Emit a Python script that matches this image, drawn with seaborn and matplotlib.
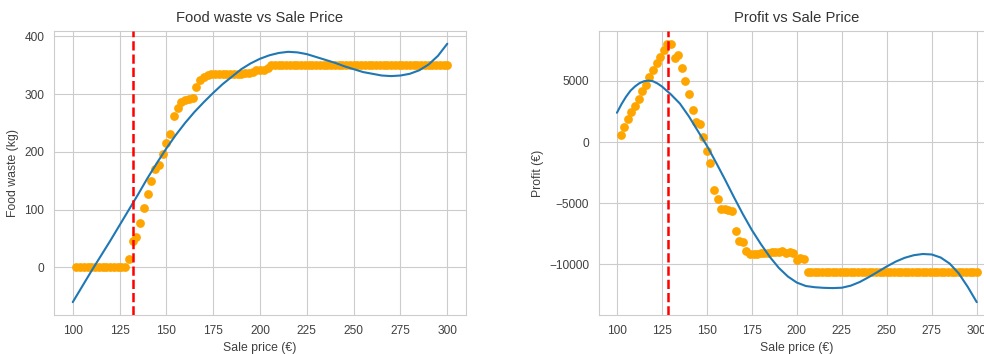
import pandas as pd
import matplotlib
matplotlib.use("Agg")
import matplotlib.pyplot as plt
import seaborn as sns

# sale price grid (EUR)
sale_price = [102, 104, 106, 108, 110, 112, 114, 116, 118, 120,
              122, 124, 126, 128, 130, 132, 134, 136, 138, 140,
              142, 144, 146, 148, 150, 152, 154, 156, 158, 160,
              162, 164, 166, 168, 170, 172, 174, 176, 178, 180,
              182, 184, 186, 188, 190, 192, 194, 196, 198, 200,
              202, 204, 206, 208, 210, 212, 214, 216, 218, 220,
              222, 224, 226, 228, 230, 232, 234, 236, 238, 240,
              242, 244, 246, 248, 250, 252, 254, 256, 258, 260,
              262, 264, 266, 268, 270, 272, 274, 276, 278, 280,
              282, 284, 286, 288, 290, 292, 294, 296, 298, 300]

food_waste = [0, 0, 0, 0, 0, 0, 0, 0, 0, 0,
              0, 0, 0, 0, 14, 45, 52, 77, 102, 127,
              150, 170, 177, 197, 215, 231, 262, 275, 287, 289,
              291, 293, 312, 324, 330, 333, 334, 334, 334, 334,
              334, 335, 335, 335, 335, 337, 337, 338, 341, 341,
              342, 345, 350, 350, 350, 350, 350, 350, 350, 350,
              350, 350, 350, 350, 350, 350, 350, 350, 350, 350,
              350, 350, 350, 350, 350, 350, 350, 350, 350, 350,
              350, 350, 350, 350, 350, 350, 350, 350, 350, 350,
              350, 350, 350, 350, 350, 350, 350, 350, 350, 350]

profit = [600, 1250, 1900, 2450, 2950, 3550, 4150, 4700, 5300, 5900,
          6450, 6950, 7500, 8050, 8050, 6900, 7150, 6100, 5000, 3950,
          2650, 1650, 1500, 450, -700, -1750, -3950, -4650, -5450, -5500,
          -5550, -5650, -7250, -8100, -8150, -8900, -9150, -9200, -9150, -9100,
          -9050, -9050, -9000, -9000, -9000, -8950, -9050, -9000, -9100, -9650,
          -9500, -9550, -10650, -10650, -10650, -10650, -10650, -10650, -10650, -10650,
          -10650, -10650, -10650, -10650, -10650, -10650, -10650, -10650, -10650, -10650,
          -10650, -10650, -10650, -10650, -10650, -10650, -10650, -10650, -10650, -10650,
          -10650, -10650, -10650, -10650, -10650, -10650, -10650, -10650, -10650, -10650,
          -10650, -10650, -10650, -10650, -10650, -10650, -10650, -10650, -10650, -10650]

# fitted trend curves
waste_fit_price = [100, 105, 110, 115, 120, 125, 130, 135, 140, 145,
                   150, 155, 160, 165, 170, 175, 180, 185, 190, 195,
                   200, 205, 210, 215, 220, 225, 230, 235, 240, 245,
                   250, 255, 260, 265, 270, 275, 280, 285, 290, 295, 300]

waste_fit = [-60, -33, -6, 20, 46, 73, 100, 127, 155, 181,
             206, 229, 250, 269, 286, 302, 317, 330, 343, 353,
             361, 367, 371, 373, 372, 369, 364, 359, 354, 348,
             343, 338, 335, 332, 331, 332, 335, 341, 351, 366, 387]

profit_fit_price = [100, 102.5, 105, 107.5, 110, 112.5, 115, 117.5, 120, 122.5,
                    125, 130, 135, 140, 145, 150, 155, 160, 165, 170,
                    175, 180, 185, 190, 195, 200, 205, 210, 215, 220,
                    225, 230, 235, 240, 245, 250, 255, 260, 265, 270,
                    275, 280, 285, 290, 295, 300]

profit_fit = [2400, 3100, 3700, 4200, 4550, 4820, 4980, 5030, 4980, 4800,
              4550, 3900, 3150, 2100, 900, -300, -1650, -3050, -4500, -5900,
              -7200, -8350, -9400, -10300, -11000, -11500, -11780, -11880, -11930, -11950,
              -11920, -11750, -11450, -11050, -10620, -10180, -9780, -9470, -9260, -9160,
              -9200, -9450, -9950, -10750, -11850, -13100]

best_price_waste = 132.4
best_price_profit = 128.1

df = pd.DataFrame({"price": sale_price, "waste": food_waste, "profit": profit})
waste_curve = pd.DataFrame({"price": waste_fit_price, "y": waste_fit})
profit_curve = pd.DataFrame({"price": profit_fit_price, "y": profit_fit})

sns.set_style("whitegrid")
plt.rcParams["font.family"] = ["Liberation Sans", "DejaVu Sans"]
plt.rcParams["font.size"] = 8.8

fig = plt.figure(figsize=(9.84, 3.54), dpi=100)
ax1 = fig.add_axes([0.0549, 0.110, 0.4187, 0.803])
ax2 = fig.add_axes([0.6087, 0.110, 0.4022, 0.803])

panels = [
    (ax1, "waste", waste_curve, best_price_waste, "Food waste vs Sale Price", "Food waste (kg)"),
    (ax2, "profit", profit_curve, best_price_profit, "Profit vs Sale Price", "Profit (€)"),
]

for ax, col, curve, best, title, ylabel in panels:
    sns.scatterplot(data=df, x="price", y=col, ax=ax, color="orange",
                    s=40, linewidth=0, zorder=2)
    sns.lineplot(data=curve, x="price", y="y", ax=ax, color="#1f77b4",
                 linewidth=1.5, zorder=3)
    ax.axvline(best, color="red", linestyle="--", linewidth=1.8, zorder=4)
    ax.set_title(title, fontsize=10.6, color="0.2")
    ax.set_xlabel("Sale price (€)", fontsize=8.8, color="0.25")
    ax.set_ylabel(ylabel, fontsize=8.8, color="0.25")
    ax.set_xticks([100, 125, 150, 175, 200, 225, 250, 275, 300])
    ax.tick_params(labelsize=8.6, colors="0.25")
    for sp in ax.spines.values():
        sp.set_color("0.8")

fig.savefig("out.png", dpi=100)
